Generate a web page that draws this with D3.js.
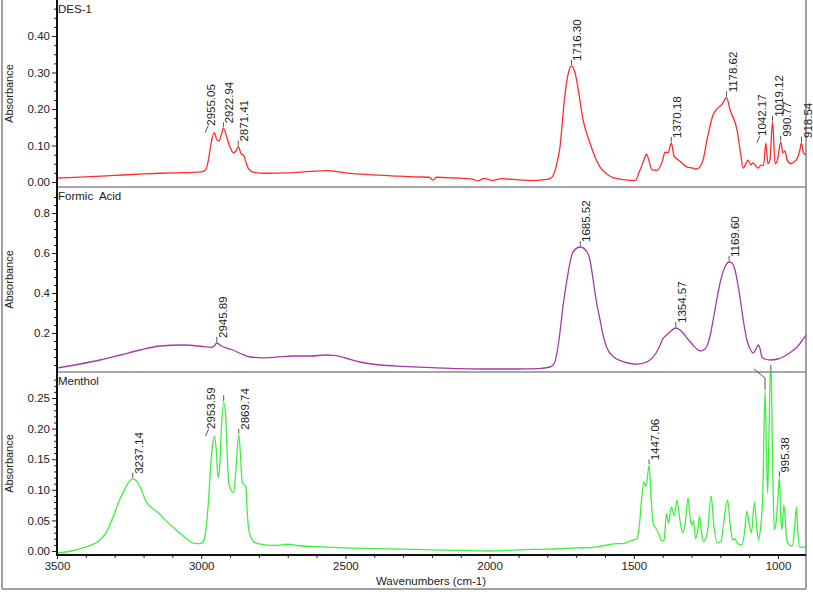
<!DOCTYPE html>
<html><head><meta charset="utf-8">
<script src="https://cdn.jsdelivr.net/npm/d3@7"></script>
<style>
body{margin:0;background:#fff}
svg{display:block}
text{font-family:"Liberation Sans",Arial,sans-serif;fill:#222}
</style>
</head><body>
<svg id="c" width="813" height="592"></svg>
<script>
// ---------------- DATA ----------------
const xTicks = [3500, 3000, 2500, 2000, 1500, 1000];

const desWn  = [3500,3400,3300,3200,3100,3000,2985,2975,2967,2955.05,2945,2938,2930,2922.94,2912,2900,2888,2880,2871.41,2862,2852,2845,2835,2820,2780,2700,2620,2560,2500,2420,2340,2260,2210,2195,2185,2120,2060,2040,2020,1990,1960,1900,1850,1800,1785,1770,1756,1740,1728,1716.30,1704,1694,1676,1652,1630,1617,1590,1572,1530,1495,1480,1465,1456,1448,1437,1420,1400,1392,1381,1370.18,1360,1345,1330,1316,1295,1285,1270,1260,1245,1225,1208,1195,1185,1178.62,1166,1142,1130,1121,1104,1094,1087,1069,1059,1050,1042.17,1035,1028,1019.12,1010,1002,990.77,983,976,968,955,945,935,925,918.54,912,903];
const desAbs = [0.011,0.014,0.018,0.022,0.025,0.028,0.033,0.06,0.10,0.135,0.115,0.113,0.13,0.147,0.125,0.095,0.08,0.085,0.097,0.078,0.072,0.055,0.035,0.027,0.024,0.025,0.029,0.031,0.025,0.02,0.017,0.014,0.013,0.005,0.013,0.011,0.008,0.003,0.01,0.004,0.009,0.006,0.004,0.007,0.012,0.04,0.096,0.23,0.295,0.318,0.30,0.26,0.17,0.107,0.06,0.041,0.02,0.012,0.006,0.004,0.03,0.06,0.076,0.06,0.033,0.032,0.06,0.082,0.08,0.107,0.07,0.06,0.05,0.041,0.038,0.035,0.042,0.06,0.12,0.184,0.203,0.212,0.225,0.232,0.197,0.142,0.08,0.038,0.06,0.047,0.052,0.038,0.046,0.045,0.107,0.05,0.06,0.165,0.05,0.06,0.11,0.08,0.085,0.06,0.05,0.055,0.062,0.085,0.107,0.08,0.075];

const formicWn  = [3500,3420,3351,3280,3212,3143,3063,2990,2965,2955,2945.89,2930,2890,2860,2831,2790,2740,2680,2620,2570,2540,2500,2450,2380,2300,2200,2100,2000,1900,1830,1790,1775,1760,1745,1732,1711,1685.52,1662,1650,1641,1630,1617,1605,1593,1570,1548,1520,1489,1465,1444,1425,1410,1400,1390,1382,1354.57,1340,1329,1310,1295,1280,1270,1258,1246,1235,1225,1212,1201,1184,1169.60,1160,1149,1140,1132,1120,1108,1095,1087,1078,1069,1062,1056,1045,1028,1000,983,960,934,920,903];
const formicAbs = [0.025,0.045,0.065,0.09,0.115,0.135,0.14,0.132,0.128,0.135,0.15,0.135,0.115,0.095,0.08,0.076,0.079,0.085,0.085,0.09,0.088,0.075,0.055,0.04,0.033,0.027,0.022,0.02,0.02,0.022,0.03,0.05,0.16,0.34,0.465,0.605,0.63,0.605,0.55,0.465,0.36,0.265,0.18,0.125,0.08,0.063,0.05,0.044,0.05,0.065,0.095,0.135,0.17,0.185,0.195,0.225,0.215,0.2,0.165,0.14,0.118,0.11,0.115,0.135,0.19,0.265,0.37,0.45,0.53,0.555,0.55,0.515,0.45,0.38,0.26,0.165,0.115,0.1,0.115,0.14,0.12,0.08,0.07,0.065,0.07,0.08,0.1,0.13,0.155,0.19];

const mentholWn  = [3500,3450,3410,3380,3351,3330,3306,3288,3271,3255,3237.14,3222,3212,3188,3170,3153,3135,3119,3095,3074,3050,3028,3005,2993,2985,2975,2967,2960,2953.59,2947,2942,2937,2930,2922,2915,2910,2904,2895,2888,2880,2869.74,2863,2858,2850,2845,2840,2833,2815,2780,2740,2700,2670,2600,2500,2400,2300,2200,2100,2000,1900,1800,1700,1640,1600,1560,1540,1520,1500,1489,1480,1472,1465,1458,1447.06,1440,1433,1425,1415,1402,1395,1387,1380,1370,1360,1350,1340,1330,1322,1312,1304,1298,1293,1286,1278,1272,1265,1258,1245,1232,1222,1210,1198,1190,1175,1165,1158,1150,1140,1125,1115,1108,1100,1092,1082,1074,1068,1060,1053,1045,1040,1036,1031,1025,1019,1013,1006,1000,995.38,990,986,980,976,970,960,950,942,936,931,926,915,903];
const mentholAbs = [-0.003,0.0,0.005,0.01,0.018,0.03,0.055,0.078,0.095,0.11,0.118,0.113,0.105,0.078,0.07,0.064,0.056,0.048,0.038,0.029,0.02,0.013,0.012,0.015,0.03,0.08,0.14,0.175,0.188,0.16,0.12,0.13,0.2,0.243,0.22,0.16,0.11,0.098,0.095,0.13,0.19,0.15,0.112,0.108,0.105,0.06,0.03,0.014,0.01,0.009,0.011,0.009,0.007,0.005,0.004,0.003,0.002,0.001,0.0,0.002,0.003,0.005,0.006,0.009,0.012,0.012,0.015,0.018,0.02,0.045,0.09,0.113,0.105,0.14,0.085,0.045,0.038,0.03,0.016,0.018,0.062,0.045,0.072,0.058,0.083,0.05,0.03,0.045,0.087,0.05,0.042,0.05,0.02,0.035,0.057,0.03,0.015,0.03,0.09,0.04,0.013,0.015,0.04,0.083,0.04,0.018,0.02,0.012,0.01,0.035,0.065,0.045,0.03,0.08,0.04,0.018,0.04,0.09,0.262,0.15,0.095,0.2,0.32,0.15,0.035,0.05,0.09,0.12,0.05,0.035,0.075,0.06,0.018,0.01,0.008,0.04,0.072,0.03,0.007,0.006,0.007];

const desLabels     = ["2955.05","2922.94","2871.41","1716.30","1370.18","1178.62","1042.17","1019.12","990.77","918.54"];
const desSlanted    = ["2955.05","1042.17"];
const formicLabels  = ["2945.89","1685.52","1354.57","1169.60"];
const formicSlanted = [];
const mentholLabels = ["3237.14","2953.59","2869.74","1447.06","995.38"];
const mentholSlanted= ["2953.59"];
const mentholUnlabeled = [2922, 1045, 1025];

const desYTicks     = [0, 0.1, 0.2, 0.3, 0.4];
const formicYTicks  = [0.2, 0.4, 0.6, 0.8];
const mentholYTicks = [0, 0.05, 0.10, 0.15, 0.20, 0.25];

// ---------------- LAYOUT ----------------
const svg = d3.select("#c");
const L = 57, R = 806, AXY = 555;
const x = d3.scaleLinear().domain([3500, 903]).range([L, R]);

const panels = [
  {title:"DES-1", wn:desWn, ab:desAbs, color:"#ff2b2b", top:0, bottom:187,
   y:d3.scaleLinear().domain([0,0.4]).range([182,36]), ticks:desYTicks, fmt:d3.format(".2f"), minor:0.025,
   labels:desLabels, slanted:desSlanted},
  {title:"Formic  Acid", wn:formicWn, ab:formicAbs, color:"#a23ca2", top:187, bottom:372,
   y:d3.scaleLinear().domain([0.2,0.8]).range([333,213]), ticks:formicYTicks, fmt:d3.format(".1f"), minor:0.04,
   labels:formicLabels, slanted:formicSlanted},
  {title:"Menthol", wn:mentholWn, ab:mentholAbs, color:"#3ef03e", top:372, bottom:AXY,
   y:d3.scaleLinear().domain([0,0.25]).range([551,398]), ticks:mentholYTicks, fmt:d3.format(".2f"), minor:0.01,
   labels:mentholLabels, slanted:mentholSlanted}
];

// outer frame
const fr = svg.append("g").attr("stroke","#a0a0a0").attr("stroke-width",2);
fr.append("line").attr("x1",2).attr("y1",0).attr("x2",2).attr("y2",589);
fr.append("line").attr("x1",2).attr("y1",589).attr("x2",R).attr("y2",589);
fr.append("line").attr("x1",R).attr("y1",0).attr("x2",R).attr("y2",589);

function valAt(wn, ab, w){
  for (let i=0;i<wn.length;i++){ if (Math.abs(wn[i]-w)<1e-6) return ab[i]; }
  for (let i=0;i<wn.length-1;i++){
    if (wn[i]>=w && wn[i+1]<=w){ const t=(wn[i]-w)/(wn[i]-wn[i+1]); return ab[i]+t*(ab[i+1]-ab[i]); }
  }
  return 0;
}

panels.forEach((p,i)=>{
  const g = svg.append("g");
  const cid = "clip"+i;
  svg.append("clipPath").attr("id",cid).append("rect")
    .attr("x",L).attr("y",p.top).attr("width",R-L).attr("height",p.bottom-p.top);

  if (i<2) g.append("line").attr("x1",L).attr("x2",R).attr("y1",p.bottom).attr("y2",p.bottom)
      .attr("stroke","#8a8a8a").attr("stroke-width",1.5);

  const pts = p.wn.map((w,k)=>[w,p.ab[k]]);
  const line = d3.line().x(d=>x(d[0])).y(d=>p.y(d[1])).curve(d3.curveMonotoneX);
  g.append("path").datum(pts).attr("d",line).attr("fill","none")
    .attr("stroke",p.color).attr("stroke-width",1.3).attr("clip-path",`url(#${cid})`);

  const ya = d3.axisLeft(p.y).tickValues(p.ticks).tickFormat(p.fmt).tickSize(5).tickPadding(2);
  const gy = g.append("g").attr("transform",`translate(${L},0)`).call(ya);
  gy.select(".domain").remove();
  gy.selectAll("line").attr("stroke","#222");
  gy.selectAll("text").attr("font-size",11.5).attr("fill","#222").style("font-family",'"Liberation Sans",Arial,sans-serif');
  const lo = p.y.invert(p.bottom-1), hi = p.y.invert(p.top+2);
  const minors = d3.range(Math.ceil(lo/p.minor)*p.minor, hi, p.minor).filter(v=>{
    return !p.ticks.some(t=>Math.abs(t-v)<1e-6);
  });
  const ym = d3.axisLeft(p.y).tickValues(minors).tickFormat("").tickSize(3);
  const gm = g.append("g").attr("transform",`translate(${L},0)`).call(ym);
  gm.select(".domain").remove();
  gm.selectAll("line").attr("stroke","#222");

  g.append("text").attr("x",L+1).attr("y",p.top+13).attr("font-size",11.5)
    .style("white-space","pre").attr("xml:space","preserve").text(p.title);

  const cy = (p.top+p.bottom)/2;
  g.append("rect").attr("x",3).attr("y",cy-31).attr("width",13).attr("height",62).attr("fill","#fff");
  g.append("text").attr("transform",`translate(13,${cy}) rotate(-90)`).attr("text-anchor","middle")
    .attr("font-size",11).text("Absorbance");

  const lg = svg.append("g");
  p.labels.forEach(lb=>{
    const w = +lb, px = x(w), py = p.y(valAt(p.wn,p.ab,w));
    if (p.slanted.includes(lb)){
      lg.append("line").attr("x1",px-9).attr("y1",py).attr("x2",px-6).attr("y2",py-7)
        .attr("stroke","#555").attr("stroke-width",1);
      lg.append("text").attr("transform",`translate(${px+0.5},${py-7}) rotate(-90)`)
        .attr("font-size",11.5).text(lb);
    } else {
      lg.append("line").attr("x1",px).attr("y1",py-1).attr("x2",px).attr("y2",py-6)
        .attr("stroke","#555").attr("stroke-width",1);
      lg.append("text").attr("transform",`translate(${px+10},${py-5}) rotate(-90)`)
        .attr("font-size",11.5).text(lb);
    }
  });
  if (i===2){
    const w0 = mentholUnlabeled[0], px0 = x(w0), py0 = p.y(valAt(p.wn,p.ab,w0));
    lg.append("line").attr("x1",px0).attr("y1",py0-1).attr("x2",px0).attr("y2",py0-7).attr("stroke","#555");
    const w1 = mentholUnlabeled[1], px1 = x(w1), py1 = p.y(valAt(p.wn,p.ab,w1));
    lg.append("polyline").attr("points",`${px1},${py1-1} ${px1},${p.top+6} ${px1-11},${p.top-3}`)
      .attr("fill","none").attr("stroke","#555");
    const px2 = x(mentholUnlabeled[2]);
    lg.append("line").attr("x1",px2).attr("y1",p.top-7).attr("x2",px2).attr("y2",p.top).attr("stroke","#555");
  }
});

svg.append("line").attr("x1",L).attr("x2",L).attr("y1",0).attr("y2",AXY+1)
  .attr("stroke","#111").attr("stroke-width",2);

const xa = d3.axisBottom(x).tickValues(xTicks).tickFormat(d3.format("d")).tickSize(4).tickPadding(3);
const gx = svg.append("g").attr("transform",`translate(0,${AXY})`).call(xa);
gx.select(".domain").remove();
gx.selectAll("line").attr("stroke","#222");
gx.selectAll("text").attr("font-size",11.5).attr("fill","#222").style("font-family",'"Liberation Sans",Arial,sans-serif');
const xMinor = d3.range(3400, 903, -100).filter(v=>!xTicks.includes(v));
const gxm = svg.append("g").attr("transform",`translate(0,${AXY})`)
  .call(d3.axisBottom(x).tickValues(xMinor).tickFormat("").tickSize(3));
gxm.select(".domain").remove();
gxm.selectAll("line").attr("stroke","#222");
svg.append("line").attr("x1",L-1).attr("x2",R).attr("y1",AXY).attr("y2",AXY)
  .attr("stroke","#111").attr("stroke-width",2);

svg.append("text").attr("x",431).attr("y",585).attr("text-anchor","middle").attr("font-size",11.5)
  .text("Wavenumbers (cm-1)");
</script>
</body></html>
